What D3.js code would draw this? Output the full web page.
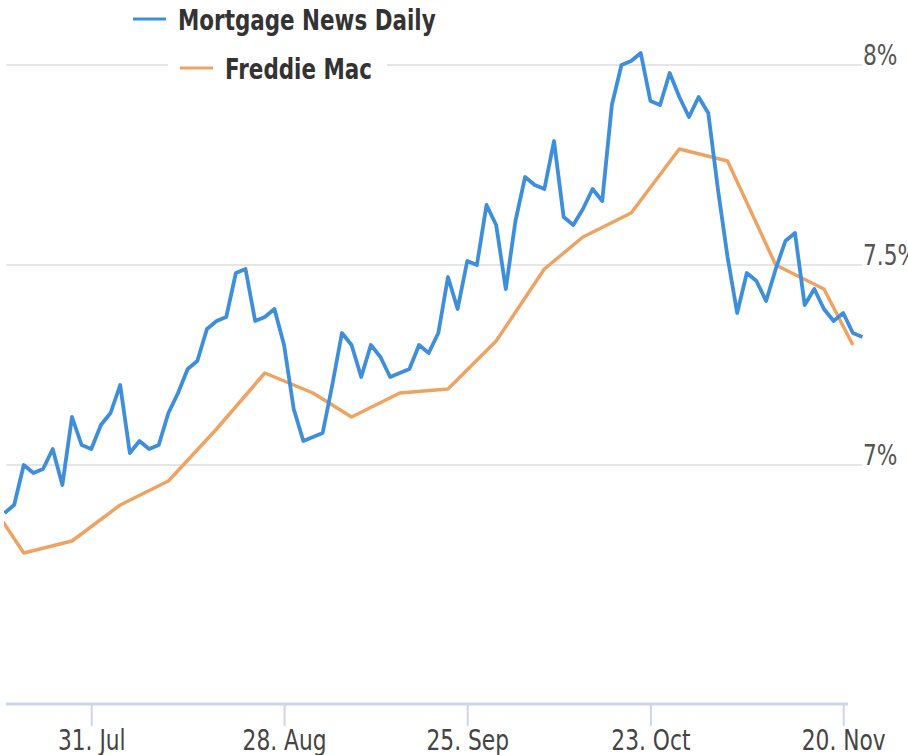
<!DOCTYPE html>
<html>
<head>
<meta charset="utf-8">
<script src="https://cdn.jsdelivr.net/npm/d3@7"></script>
<style>
  body { margin: 0; background: #fff; }
  svg { display: block; }
</style>
</head>
<body>
<div id="chart"></div>
<script>
// Mortgage News Daily, one value per trading day starting 18 Jul 2023
const mndStart = "2023-07-18";
const mndRates = [
  6.88, 6.90, 7.00, 6.98, 6.99, 7.04, 6.95, 7.12, 7.05, 7.04,
  7.10, 7.13, 7.20, 7.03, 7.06, 7.04, 7.05, 7.13, 7.18, 7.24,
  7.26, 7.34, 7.36, 7.37, 7.48, 7.49, 7.36, 7.37, 7.39, 7.30,
  7.14, 7.06, 7.07, 7.08, 7.20, 7.33, 7.30, 7.22, 7.30, 7.27,
  7.22, 7.23, 7.24, 7.30, 7.28, 7.33, 7.47, 7.39, 7.51, 7.50,
  7.65, 7.60, 7.44, 7.61, 7.72, 7.70, 7.69, 7.81, 7.62, 7.60,
  7.64, 7.69, 7.66, 7.90, 8.00, 8.01, 8.03, 7.91, 7.90, 7.98,
  7.92, 7.87, 7.92, 7.88, 7.69, 7.52, 7.38, 7.48, 7.46, 7.41,
  7.49, 7.56, 7.58, 7.40, 7.44, 7.39, 7.36, 7.38, 7.33, 7.32
];

// Freddie Mac weekly survey
const fmDates = [
  "2023-07-13", "2023-07-20", "2023-07-27", "2023-08-03", "2023-08-10",
  "2023-08-17", "2023-08-24", "2023-08-31", "2023-09-07", "2023-09-14",
  "2023-09-21", "2023-09-28", "2023-10-05", "2023-10-12", "2023-10-19",
  "2023-10-26", "2023-11-02", "2023-11-09", "2023-11-16", "2023-11-21"
];
const fmRates = [
  6.96, 6.78, 6.81, 6.90, 6.96, 7.09, 7.23, 7.18, 7.12, 7.18,
  7.19, 7.31, 7.49, 7.57, 7.63, 7.79, 7.76, 7.50, 7.44, 7.30
];

// days without a rate (market holidays)
const holidays = ["2023-09-04", "2023-10-09"];

const tickDates = ["2023-07-31", "2023-08-28", "2023-09-25", "2023-10-23", "2023-11-20"];
const yTicks = [7, 7.5, 8];
const yTickLabels = ["7%", "7.5%", "8%"];
const seriesNames = ["Mortgage News Daily", "Freddie Mac"];
const colors = ["#3d8fdc", "#eea363"];

const width = 908, height = 755;
const axisY = 704;
const font = "'DejaVu Sans', Verdana, sans-serif";
const squeeze = "scale(0.75,1)";

const parse = d3.timeParse("%Y-%m-%d");
const fmt = d3.timeFormat("%Y-%m-%d");
const label = d3.timeFormat("%-d. %b");

// ordinal axis: only trading days take space
const days = d3.timeDay.range(parse(fmDates[0]), d3.timeDay.offset(parse("2023-11-22"), 1))
  .filter(d => d.getDay() % 6 !== 0 && !holidays.includes(fmt(d)))
  .map(fmt);
const pos = s => days.indexOf(s);

const mnd = mndRates.map((v, i) => ({ i: pos(mndStart) + i, v }));
const fm = fmDates.map((d, k) => ({ i: pos(d), v: fmRates[k] }));

const x = d3.scaleLinear()
  .domain([pos(mndStart), pos(mndStart) + mndRates.length - 1])
  .range([4.5, 862.5]);
const y = d3.scaleLinear()
  .domain([7, 8])
  .range([465, 65]);

const svg = d3.select("#chart")
  .append("svg")
  .attr("width", width)
  .attr("height", height);

svg.append("defs").append("clipPath")
  .attr("id", "plot")
  .append("rect")
  .attr("x", 4).attr("y", 0)
  .attr("width", width - 4).attr("height", axisY);

// gridlines
svg.append("g")
  .selectAll("line")
  .data(yTicks)
  .join("line")
  .attr("x1", 6)
  .attr("x2", 862)
  .attr("y1", d => y(d))
  .attr("y2", d => y(d))
  .attr("stroke", "#e6e6e6")
  .attr("stroke-width", 2);

// y labels on the right (the 7.5% runs off the edge, as in the original)
svg.append("g")
  .selectAll("g")
  .data(yTicks)
  .join("g")
  .attr("transform", d => `translate(863,${y(d)})`)
  .append("text")
  .attr("transform", squeeze)
  .attr("font-family", font)
  .attr("font-size", 29)
  .attr("fill", "#555")
  .text((d, i) => yTickLabels[i]);

// x axis
const xAxis = d3.axisBottom(x)
  .tickValues(tickDates.map(pos))
  .tickFormat(i => label(parse(days[i])))
  .tickSizeInner(22)
  .tickSizeOuter(0)
  .tickPadding(3);

const gx = svg.append("g")
  .attr("transform", `translate(0,${axisY})`)
  .call(xAxis);
gx.select(".domain").remove();
gx.selectAll(".tick line")
  .attr("stroke", "#ccd6eb")
  .attr("stroke-width", 2);
gx.selectAll(".tick text")
  .attr("transform", squeeze)
  .attr("font-family", font)
  .attr("font-size", 29)
  .attr("fill", "#444");
gx.append("line")
  .attr("x1", 6)
  .attr("x2", 848)
  .attr("stroke", "#ccd6eb")
  .attr("stroke-width", 3);

// lines
const line = d3.line()
  .x(d => x(d.i))
  .y(d => y(d.v));

const plot = svg.append("g").attr("clip-path", "url(#plot)");
plot.append("path")
  .datum(fm)
  .attr("d", line)
  .attr("fill", "none")
  .attr("stroke", colors[1])
  .attr("stroke-width", 3.5)
  .attr("stroke-linejoin", "round");
plot.append("path")
  .datum(mnd)
  .attr("d", line)
  .attr("fill", "none")
  .attr("stroke", colors[0])
  .attr("stroke-width", 3.8)
  .attr("stroke-linejoin", "round");

// legend, two rows stepping to the right
const legendPos = [{ x: 133, y: 19 }, { x: 180, y: 68 }];
const items = svg.append("g")
  .selectAll("g")
  .data(seriesNames)
  .join("g")
  .attr("transform", (d, i) => `translate(${legendPos[i].x},${legendPos[i].y})`);

items.append("rect")
  .attr("x", -12)
  .attr("y", -18)
  .attr("width", (d, i) => i === 0 ? 325 : 219)
  .attr("height", 36)
  .attr("fill", "#fff");
items.append("line")
  .attr("x1", 0)
  .attr("x2", 33)
  .attr("stroke", (d, i) => colors[i])
  .attr("stroke-width", 3);
items.append("g")
  .attr("transform", "translate(45,11)")
  .append("text")
  .attr("transform", "scale(0.74,1)")
  .attr("font-family", font)
  .attr("font-weight", "bold")
  .attr("font-size", 29)
  .attr("fill", "#333")
  .text(d => d);
</script>
</body>
</html>
